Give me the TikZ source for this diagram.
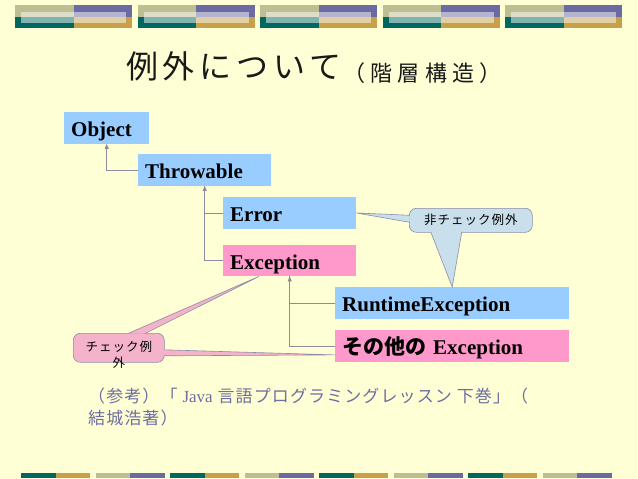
\documentclass[tikz,border=0pt]{standalone}
\usepackage{fontspec}
\setmainfont{Liberation Serif}
\newfontfamily\jpfont{Noto Sans CJK JP}
\usepackage{tikz}
\usetikzlibrary{arrows.meta,calc,positioning}
\definecolor{bg}{HTML}{FFFFD5}
\definecolor{clsblue}{HTML}{99CCFF}
\definecolor{clspink}{HTML}{FF99CC}
\definecolor{unchkfill}{HTML}{C9DFEB}
\definecolor{chkfill}{HTML}{F5B3CB}
\definecolor{callline}{HTML}{8C8CA8}
\definecolor{linkgray}{HTML}{8C8C9C}
\definecolor{reftext}{HTML}{6E6EA0}
\definecolor{khaki}{HTML}{BEBE92}
\definecolor{purp}{HTML}{6C6AA2}
\definecolor{dteal}{HTML}{006860}
\definecolor{gold}{HTML}{C8A04A}

\begin{document}
\begin{tikzpicture}[x=1pt,y=-1pt,
  cls/.style={rectangle,anchor=north west,inner xsep=7pt,inner ysep=0pt,minimum height=31.5pt,
    text width=#1,text height=18pt,text depth=0pt,align=left,font=\bfseries\fontsize{21}{22}\selectfont},
  link/.style={linkgray,line width=0.8pt},
  tip/.style={link,-{Triangle[width=4pt,length=5pt]}},
  callout/.style={draw=callline,line width=0.6pt,rounded corners=7pt,anchor=north west,inner sep=0pt,
    font=\jpfont\addfontfeature{LetterSpace=8}\fontsize{12.5}{16}\selectfont}]
  \useasboundingbox (0,0) rectangle (638,479);
  \fill[bg] (0,0) rectangle (638,479);
  % top and bottom bands
  \foreach \i in {0,...,4}{
    \begin{scope}[xshift=\i*122.5]
      \fill[khaki] (15,5) rectangle (73.5,17); \fill[purp] (73.5,5) rectangle (132,17);
      \fill[dteal] (15,17) rectangle (73.5,28); \fill[gold] (73.5,17) rectangle (132,28);
      \fill[white,opacity=0.5] (21,12) rectangle (126,23);
    \end{scope}}
  \foreach \i/\ca/\cb in {0/dteal/gold,1/khaki/purp,2/dteal/gold,3/khaki/purp,4/dteal/gold,5/khaki/purp,6/dteal/gold,7/khaki/purp}{
    \fill[\ca] (21+\i*74.5,473) rectangle (55.5+\i*74.5,478);
    \fill[\cb] (55.5+\i*74.5,473) rectangle (90+\i*74.5,478);}
  % title
  \node[anchor=base west,inner sep=0pt,font=\jpfont\addfontfeature{LetterSpace=15}\fontsize{32}{36}\selectfont,text=black!90] (title) at (126,78) {例外について};
  \node[anchor=base west,inner sep=0pt,font=\jpfont\addfontfeature{LetterSpace=24}\fontsize{22}{26}\selectfont,text=black!90] (subtitle) at (343,81) {（階層構造）};
  % class boxes
  \node[cls=71pt,fill=clsblue] (object) at (64,112) {Object};
  \node[cls=119pt,fill=clsblue] (throwable) at (138,154) {Throwable};
  \node[cls=119pt,fill=clsblue] (error) at (223,197) {Error};
  \node[cls=119pt,fill=clspink] (exception) at (223,244.5) {Exception};
  \node[cls=220pt,fill=clsblue] (runtime) at (335,287) {RuntimeException};
  \node[cls=220pt,fill=clspink] (other) at (335,330) {{\jpfont\bfseries その他の} Exception};
  \draw[tip] (throwable.west) -| (object.south);
  \draw[link] (error.west) -| (throwable.south);
  \draw[tip] (exception.west) -| (throwable.south);
  \draw[link] (runtime.west) -| (exception.south);
  \draw[tip] (other.west) -| (exception.south);
  % callouts
  \node[callout,fill=unchkfill,minimum width=123pt,minimum height=24pt] (unchk) at (409,208) {非チェック例外};
  \node[callout,fill=chkfill,minimum width=91pt,minimum height=29pt] (chk) at (73,333) {};
  \node[anchor=north,inner sep=0pt,align=center,font=\jpfont\addfontfeature{LetterSpace=8}\fontsize{12.5}{16}\selectfont] (chktxt) at ($(chk.north)+(0,8)$) {チェック例\\外};
  \coordinate (u1) at ($(unchk.west)+(0.6,-5)$); \coordinate (u2) at ($(unchk.west)+(0.6,2)$);
  \coordinate (u3) at ($(unchk.south)+(-40,-0.6)$); \coordinate (u4) at ($(unchk.south)+(-9,-0.6)$);
  \coordinate (c1) at ($(chk.north)+(9,0.6)$); \coordinate (c2) at ($(chk.north)+(26,0.6)$);
  \coordinate (c3) at ($(chk.east)+(-0.6,2)$); \coordinate (c4) at ($(chk.east)+(-0.6,8)$);
  \coordinate (exctip) at ($(exception.south west)!0.27!(exception.south east)$);
  \coordinate (othtip) at ($(other.south west)+(0,-7)$);
  \fill[unchkfill] (u1) -- (error.east) -- (u2) -- cycle; \draw[callline,line width=0.6pt] (u1) -- (error.east) -- (u2);
  \fill[unchkfill] (u3) -- (runtime.north) -- (u4) -- cycle; \draw[callline,line width=0.6pt] (u3) -- (runtime.north) -- (u4);
  \fill[chkfill] (c1) -- (exctip) -- (c2) -- cycle; \draw[callline,line width=0.6pt] (c1) -- (exctip) -- (c2);
  \fill[chkfill] (c3) -- (othtip) -- (c4) -- cycle; \draw[callline,line width=0.6pt] (c3) -- (othtip) -- (c4);
  % reference
  \node[anchor=north west,inner sep=0pt,align=left,text=reftext,font=\jpfont\addfontfeature{LetterSpace=6.5}\fontsize{17}{22}\selectfont] (ref) at (88,388)
    {（参考）「 {\rmfamily Java} 言語プログラミングレッスン 下巻」（\\結城浩著）};
\end{tikzpicture}
\end{document}
